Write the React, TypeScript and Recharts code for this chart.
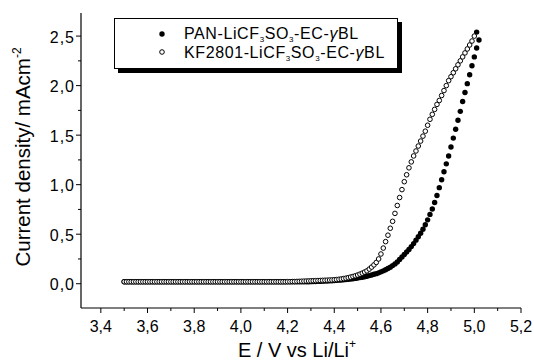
import React from 'react';
import { ScatterChart, Scatter, XAxis, YAxis, Legend, Label } from 'recharts';

// Potential (V vs Li/Li+), sampled every 10 mV
const voltage = [
  3.50, 3.51, 3.52, 3.53, 3.54, 3.55, 3.56, 3.57, 3.58, 3.59,
  3.60, 3.61, 3.62, 3.63, 3.64, 3.65, 3.66, 3.67, 3.68, 3.69,
  3.70, 3.71, 3.72, 3.73, 3.74, 3.75, 3.76, 3.77, 3.78, 3.79,
  3.80, 3.81, 3.82, 3.83, 3.84, 3.85, 3.86, 3.87, 3.88, 3.89,
  3.90, 3.91, 3.92, 3.93, 3.94, 3.95, 3.96, 3.97, 3.98, 3.99,
  4.00, 4.01, 4.02, 4.03, 4.04, 4.05, 4.06, 4.07, 4.08, 4.09,
  4.10, 4.11, 4.12, 4.13, 4.14, 4.15, 4.16, 4.17, 4.18, 4.19,
  4.20, 4.21, 4.22, 4.23, 4.24, 4.25, 4.26, 4.27, 4.28, 4.29,
  4.30, 4.31, 4.32, 4.33, 4.34, 4.35, 4.36, 4.37, 4.38, 4.39,
  4.40, 4.41, 4.42, 4.43, 4.44, 4.45, 4.46, 4.47, 4.48, 4.49,
  4.50, 4.51, 4.52, 4.53, 4.54, 4.55, 4.56, 4.57, 4.58, 4.59,
  4.60, 4.61, 4.62, 4.63, 4.64, 4.65, 4.66, 4.67, 4.68, 4.69,
  4.70, 4.71, 4.72, 4.73, 4.74, 4.75, 4.76, 4.77, 4.78, 4.79,
  4.80, 4.81, 4.82, 4.83, 4.84, 4.85, 4.86, 4.87, 4.88, 4.89,
  4.90, 4.91, 4.92, 4.93, 4.94, 4.95, 4.96, 4.97, 4.98, 4.99,
  5.00, 5.01,
];

// PAN-LiCF3SO3-EC-γBL current density (mA cm^-2)
const panCurrent = [
  0.02, 0.02, 0.02, 0.02, 0.02, 0.02, 0.02, 0.02, 0.02, 0.02,
  0.02, 0.02, 0.02, 0.02, 0.02, 0.02, 0.02, 0.02, 0.02, 0.02,
  0.02, 0.02, 0.02, 0.02, 0.02, 0.02, 0.02, 0.02, 0.02, 0.02,
  0.02, 0.02, 0.02, 0.02, 0.02, 0.02, 0.02, 0.02, 0.02, 0.02,
  0.02, 0.02, 0.02, 0.02, 0.02, 0.02, 0.02, 0.02, 0.02, 0.02,
  0.02, 0.02, 0.02, 0.02, 0.02, 0.02, 0.02, 0.02, 0.02, 0.02,
  0.02, 0.02, 0.02, 0.02, 0.02, 0.02, 0.02, 0.02, 0.02, 0.02,
  0.02, 0.02, 0.02, 0.02, 0.02, 0.02, 0.02, 0.02, 0.02, 0.02,
  0.021, 0.022, 0.023, 0.024, 0.025, 0.026, 0.027, 0.028, 0.029, 0.03,
  0.032, 0.034, 0.036, 0.038, 0.04, 0.042, 0.045, 0.048, 0.051, 0.054,
  0.058, 0.062, 0.066, 0.071, 0.076, 0.082, 0.088, 0.095, 0.102, 0.11,
  0.12, 0.13, 0.141, 0.153, 0.167, 0.183, 0.2, 0.22, 0.245, 0.27,
  0.295, 0.32, 0.345, 0.375, 0.405, 0.44, 0.475, 0.51, 0.55, 0.595,
  0.645, 0.7, 0.755, 0.82, 0.89, 0.97, 1.05, 1.13, 1.21, 1.29,
  1.38, 1.47, 1.56, 1.65, 1.74, 1.84, 1.93, 2.02, 2.11, 2.2,
  2.29, 2.38,
];
// last PAN points at the turning end of the scan
const panTailVoltage = [5.02, 5.01];
const panTailCurrent = [2.46, 2.54];

// KF2801-LiCF3SO3-EC-γBL current density (mA cm^-2)
const kfCurrent = [
  0.02, 0.02, 0.02, 0.02, 0.02, 0.02, 0.02, 0.02, 0.02, 0.02,
  0.02, 0.02, 0.02, 0.02, 0.02, 0.02, 0.02, 0.02, 0.02, 0.02,
  0.02, 0.02, 0.02, 0.02, 0.02, 0.02, 0.02, 0.02, 0.02, 0.02,
  0.02, 0.02, 0.02, 0.02, 0.02, 0.02, 0.02, 0.02, 0.02, 0.02,
  0.02, 0.02, 0.02, 0.02, 0.02, 0.02, 0.02, 0.02, 0.02, 0.02,
  0.02, 0.02, 0.02, 0.02, 0.02, 0.02, 0.02, 0.02, 0.02, 0.02,
  0.02, 0.02, 0.02, 0.02, 0.02, 0.02, 0.02, 0.02, 0.02, 0.02,
  0.021, 0.021, 0.022, 0.022, 0.023, 0.024, 0.025, 0.026, 0.027, 0.028,
  0.029, 0.03, 0.031, 0.032, 0.033, 0.034, 0.035, 0.036, 0.037, 0.038,
  0.04, 0.042, 0.045, 0.048, 0.052, 0.056, 0.061, 0.067, 0.073, 0.08,
  0.088, 0.097, 0.107, 0.118, 0.13, 0.148, 0.168, 0.19, 0.215, 0.25,
  0.3, 0.36, 0.425, 0.49, 0.56, 0.63, 0.71, 0.79, 0.87, 0.95,
  1.03, 1.1, 1.17, 1.23, 1.29, 1.34, 1.39, 1.44, 1.49, 1.54,
  1.6, 1.66, 1.71, 1.76, 1.81, 1.85, 1.9, 1.95, 2.0, 2.05,
  2.09, 2.13, 2.17, 2.21, 2.25, 2.29, 2.33, 2.37, 2.41, 2.45,
  2.5, null,
];

const xMajorTicks = [3.4, 3.6, 3.8, 4.0, 4.2, 4.4, 4.6, 4.8, 5.0, 5.2];
const xMinorTicks = [3.5, 3.7, 3.9, 4.1, 4.3, 4.5, 4.7, 4.9, 5.1];
const yMajorTicks = [0, 0.5, 1.0, 1.5, 2.0, 2.5];
const yMinorTicks = [0.25, 0.75, 1.25, 1.75, 2.25];

const FONT = 'Arial, "Liberation Sans", Helvetica, sans-serif';

const panData = voltage
  .map((v, i) => ({ v, j: panCurrent[i] }))
  .concat(panTailVoltage.map((v, i) => ({ v, j: panTailCurrent[i] })));
const kfData = voltage
  .map((v, i) => ({ v, j: kfCurrent[i] }))
  .filter((d) => d.j !== null && d.j !== undefined);

const isIn = (arr: number[], val: number) => arr.some((a) => Math.abs(a - val) < 1e-6);
const fmt = (val: number) => val.toFixed(1).replace('.', ',');

const XTick = (props: any) => {
  const { x, y, payload } = props;
  const major = isIn(xMajorTicks, payload.value);
  return (
    <g>
      <line x1={x} x2={x} y1={y} y2={y + (major ? 5 : 3)} stroke="#000" strokeWidth={1} />
      {major && (
        <text x={x} y={y + 23.5} textAnchor="middle" fontFamily={FONT} fontSize={16} fill="#000">
          {fmt(payload.value)}
        </text>
      )}
    </g>
  );
};

const YTick = (props: any) => {
  const { x, y, payload } = props;
  const major = isIn(yMajorTicks, payload.value);
  return (
    <g>
      <line x1={x} x2={x - (major ? 5 : 3)} y1={y} y2={y} stroke="#000" strokeWidth={1} />
      {major && (
        <text
          x={x - 6}
          y={y + 6.5}
          textAnchor="end"
          fontFamily={FONT}
          fontSize={16}
          letterSpacing={1}
          fill="#000"
        >
          {fmt(payload.value)}
        </text>
      )}
    </g>
  );
};

const FilledDot = (p: any) => <circle cx={p.cx} cy={p.cy} r={2.7} fill="#000" />;
const OpenDot = (p: any) => (
  <circle cx={p.cx} cy={p.cy} r={2.3} fill="#fff" stroke="#000" strokeWidth={1} />
);

const SeriesName = ({ prefix, x, y }: { prefix: string; x: number; y: number }) => (
  <text x={x} y={y} fontFamily={FONT} fontSize={16} letterSpacing={0.6} fill="#000">
    {prefix}-LiCF
    <tspan fontSize={8} dy={3}>3</tspan>
    <tspan dy={-3}>SO</tspan>
    <tspan fontSize={8} dy={3}>3</tspan>
    <tspan dy={-3}>-EC-</tspan>
    <tspan fontStyle="italic">γ</tspan>
    <tspan>BL</tspan>
  </text>
);

const renderLegend = () => (
  <svg width={292} height={58} style={{ display: 'block' }}>
    <rect x={4} y={4} width={284} height={51} fill="#000" />
    <rect x={0.5} y={0.5} width={283} height={50} fill="#fff" stroke="#000" strokeWidth={1} />
    <circle cx={48} cy={16} r={2.7} fill="#000" />
    <SeriesName prefix="PAN" x={70} y={21} />
    <circle cx={48} cy={34} r={2.3} fill="#fff" stroke="#000" strokeWidth={1} />
    <SeriesName prefix="KF2801" x={70} y={40} />
  </svg>
);

export default function App() {
  return (
    <div style={{ position: 'absolute', left: 0, top: 0, width: 534, height: 362, background: '#fff' }}>
      <ScatterChart
        width={534}
        height={362}
        margin={{ top: 13, right: 13, bottom: 0, left: 0 }}
      >
        <XAxis
          type="number"
          dataKey="v"
          domain={[3.315, 5.2]}
          allowDataOverflow
          ticks={[...xMajorTicks, ...xMinorTicks].sort((a, b) => a - b)}
          interval={0}
          tick={<XTick />}
          tickLine={false}
          tickSize={0}
          tickMargin={0}
          height={54}
          axisLine={{ stroke: '#000', strokeWidth: 1.2 }}
        >
          <Label
            content={() => (
              <text x={297} y={357} textAnchor="middle" fontFamily={FONT} fontSize={20} fill="#000">
                E / V vs Li/Li
                <tspan fontSize={12} dy={-9}>+</tspan>
              </text>
            )}
          />
        </XAxis>
        <YAxis
          type="number"
          dataKey="j"
          domain={[-0.245, 2.733]}
          allowDataOverflow
          ticks={[...yMajorTicks, ...yMinorTicks].sort((a, b) => a - b)}
          interval={0}
          tick={<YTick />}
          tickLine={false}
          tickSize={0}
          tickMargin={0}
          width={81}
          axisLine={{ stroke: '#000', strokeWidth: 1.2 }}
        >
          <Label
            content={() => (
              <text
                transform="translate(30,157) rotate(-90)"
                textAnchor="middle"
                fontFamily={FONT}
                fontSize={20.5}
                fill="#000"
              >
                Current density/ mAcm
                <tspan fontSize={12} dy={-9}>-2</tspan>
              </text>
            )}
          />
        </YAxis>
        <Legend
          layout="vertical"
          align="center"
          verticalAlign="middle"
          content={renderLegend}
          wrapperStyle={{ position: 'absolute', left: 114, top: 18, width: 292, height: 58 }}
        />
        <Scatter
          name="PAN-LiCF3SO3-EC-γBL"
          data={panData}
          shape={FilledDot}
          isAnimationActive={false}
        />
        <Scatter
          name="KF2801-LiCF3SO3-EC-γBL"
          data={kfData}
          shape={OpenDot}
          isAnimationActive={false}
        />
      </ScatterChart>
    </div>
  );
}
